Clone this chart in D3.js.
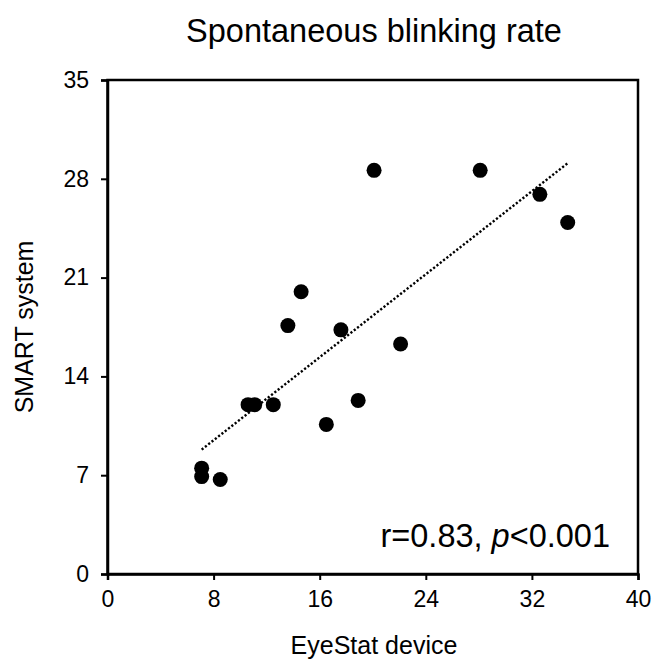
<!DOCTYPE html>
<html>
<head>
<meta charset="utf-8">
<script src="https://cdn.jsdelivr.net/npm/d3@7"></script>
<style>
  body { margin: 0; background: #fff; }
  text { font-family: Arial, "Liberation Sans", sans-serif; fill: #000; }
</style>
</head>
<body>
<svg id="chart"></svg>
<script>
// values
var eyeStat = [14.6, 13.6, 17.6, 10.6, 11.1, 12.5, 16.5, 18.9, 7.1, 7.1, 8.5, 20.1, 28.1, 32.6, 34.7, 22.1];
var smart   = [20.0, 17.6, 17.3, 12.0, 12.0, 12.0, 10.6, 12.3, 7.5, 6.9, 6.7, 28.6, 28.6, 26.9, 24.9, 16.3];
var xTicks = [0, 8, 16, 24, 32, 40];
var yTicks = [0, 7, 14, 21, 28, 35];

var width = 653, height = 666;
var margin = {top: 80, right: 15, bottom: 92, left: 107.5};

var svg = d3.select('#chart').attr('width', width).attr('height', height);

var x = d3.scaleLinear().domain([0, 40]).range([margin.left, width - margin.right]);
var y = d3.scaleLinear().domain([0, 35]).range([height - margin.bottom, margin.top]);

// frame
svg.append('rect')
  .attr('x', x(0)).attr('y', y(35))
  .attr('width', x(40) - x(0)).attr('height', y(0) - y(35))
  .attr('fill', 'none').attr('stroke', '#000').attr('stroke-width', 2.5);

var xAxis = svg.append('g').attr('transform', 'translate(0,' + y(0) + ')')
  .call(d3.axisBottom(x).tickValues(xTicks).tickSize(6).tickPadding(11));
var yAxis = svg.append('g').attr('transform', 'translate(' + x(0) + ',0)')
  .call(d3.axisLeft(y).tickValues(yTicks).tickSize(6.5).tickPadding(12));

[xAxis, yAxis].forEach(function(ax) {
  ax.select('.domain').attr('stroke-width', 2.5);
  ax.selectAll('.tick line').attr('stroke-width', 2);
  ax.selectAll('.tick text').style('font-size', '23px');
});

// regression line
var points = eyeStat.map(function(v, i) { return {x: v, y: smart[i]}; });
var mx = d3.mean(eyeStat), my = d3.mean(smart);
var sxy = d3.sum(points, function(d) { return (d.x - mx) * (d.y - my); });
var sxx = d3.sum(points, function(d) { return (d.x - mx) * (d.x - mx); });
var slope = sxy / sxx, intercept = my - slope * mx;
var ext = d3.extent(eyeStat);

svg.append('line')
  .attr('x1', x(ext[0])).attr('y1', y(intercept + slope * ext[0]))
  .attr('x2', x(ext[1])).attr('y2', y(intercept + slope * ext[1]))
  .attr('stroke', '#000').attr('stroke-width', 2.4)
  .attr('stroke-dasharray', '2.2,2');

svg.selectAll('.dot').data(points).enter().append('circle')
  .attr('class', 'dot')
  .attr('cx', function(d) { return x(d.x); })
  .attr('cy', function(d) { return y(d.y); })
  .attr('r', 7.5)
  .attr('fill', '#000');

svg.append('text')
  .attr('x', 374).attr('y', 42)
  .attr('text-anchor', 'middle')
  .style('font-size', '32.5px')
  .text('Spontaneous blinking rate');

svg.append('text')
  .attr('x', 374).attr('y', 654)
  .attr('text-anchor', 'middle')
  .style('font-size', '25px')
  .text('EyeStat device');

svg.append('text')
  .attr('transform', 'translate(33,327) rotate(-90)')
  .attr('text-anchor', 'middle')
  .style('font-size', '25px')
  .text('SMART system');

var note = svg.append('text')
  .attr('x', 610).attr('y', 547)
  .attr('text-anchor', 'end')
  .style('font-size', '32.5px');
note.append('tspan').text('r=0.83, ');
note.append('tspan').style('font-style', 'italic').text('p');
note.append('tspan').text('<0.001');
</script>
</body>
</html>
